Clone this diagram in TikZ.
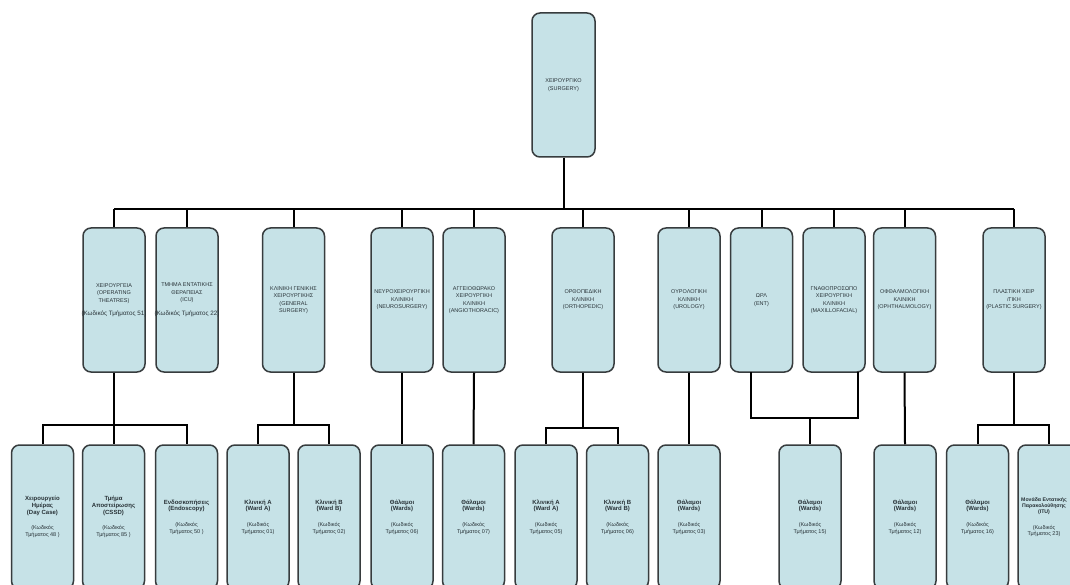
\documentclass[tikz,border=0pt]{standalone}
\usepackage{fontspec}
\setmainfont{Liberation Sans}
\definecolor{boxfill}{RGB}{198,226,231}
\definecolor{boxline}{RGB}{55,60,62}
\definecolor{txt}{RGB}{40,50,55}
\newcommand{\codeline}[1]{\makebox[0pt]{\fontsize{6.3}{7}\selectfont #1}}
\newcommand{\lowcode}[1]{{\fontsize{5.5}{6.5}\selectfont #1}}
\begin{document}
\begin{tikzpicture}[x=1pt,y=-1pt,
 box/.style={draw=boxline, fill=boxfill, line width=1.5pt, rounded corners=8pt,
   minimum width=62pt, minimum height=144pt, inner sep=0pt, align=center, text=txt},
 mid/.style={box, font=\fontsize{5.5}{7.5}\selectfont},
 low/.style={box, font=\fontsize{6}{6.7}\selectfont},
 lowtext/.style={inner sep=0pt, align=center, text=txt, font=\fontsize{5.2}{6.3}\selectfont},
 conn/.style={draw=black, line width=2pt},
 busline/.style={draw=black, line width=2.6pt}]
\fill[white] (0,0) rectangle (1070,585);
\clip (0,0) rectangle (1070,585);

% top
\node[mid, minimum width=63pt] (t) at (563.5,85) {ΧΕΙΡΟΥΡΓΙΚΟ\\(SURGERY)};

% middle row
\node[mid] (m1) at (114,300) {ΧΕΙΡΟΥΡΓΕΙΑ\\(OPERATING\\THEATRES)\\[6pt]\codeline{(Κωδικός Τμήματος 51)}};
\node[mid] (m2) at (187,300) {\makebox[0pt]{ΤΜΗΜΑ ΕΝΤΑΤΙΚΗΣ}\\ΘΕΡΑΠΕΙΑΣ\\(ICU)\\[6pt]\codeline{(Κωδικός Τμήματος 22)}};
\node[mid] (m3) at (293.5,300) {\makebox[0pt]{ΚΛΙΝΙΚΗ ΓΕΝΙΚΗΣ}\\ΧΕΙΡΟΥΡΓΙΚΗΣ\\(GENERAL\\SURGERY)};
\node[mid] (m4) at (402,300) {\makebox[0pt]{ΝΕΥΡΟΧΕΙΡΟΥΡΓΙΚΗ}\\ΚΛΙΝΙΚΗ\\(NEUROSURGERY)};
\node[mid] (m5) at (474,300) {ΑΓΓΕΙΟΘΩΡΑΚΟ\\ΧΕΙΡΟΥΡΓΙΚΗ\\ΚΛΙΝΙΚΗ\\\makebox[0pt]{(ANGIOTHORACIC)}};
\node[mid] (m6) at (583,300) {ΟΡΘΟΠΕΔΙΚΗ\\ΚΛΙΝΙΚΗ\\(ORTHOPEDIC)};
\node[mid] (m7) at (689,300) {ΟΥΡΟΛΟΓΙΚΗ\\ΚΛΙΝΙΚΗ\\(UROLOGY)};
\node[mid] (m8) at (761.5,300) {ΩΡΛ\\(ENT)};
\node[mid] (m9) at (834,300) {\makebox[0pt]{ΓΝΑΘΟΠΡΟΣΩΠΟ}\\ΧΕΙΡΟΥΡΓΙΚΗ\\ΚΛΙΝΙΚΗ\\\makebox[0pt]{(MAXILLOFACIAL)}};
\node[mid] (m10) at (904.5,300) {\makebox[0pt]{ΟΦΘΑΛΜΟΛΟΓΙΚΗ}\\ΚΛΙΝΙΚΗ\\\makebox[0pt]{(OPHTHALMOLOGY)}};
\node[mid] (m11) at (1014,300) {ΠΛΑΣΤΙΚΗ ΧΕΙΡ\\/ΓΙΚΗ\\\makebox[0pt]{(PLASTIC SURGERY)}};

% bottom row
\node[low] (b1) at (42.5,517) {\textbf{Χειρουργείο}\\\textbf{Ημέρας}\\\textbf{(Day Case)}\\[9pt]\lowcode{(Κωδικός}\\\lowcode{Τμήματος 48 )}};
\node[low] (b2) at (113.5,517) {\textbf{Τμήμα}\\\textbf{\makebox[0pt]{Αποστείρωσης}}\\\textbf{(CSSD)}\\[9pt]\lowcode{(Κωδικός}\\\lowcode{Τμήματος 85 )}};
\node[low] (b3) at (186.5,517) {\textbf{\makebox[0pt]{Ενδοσκοπήσεις}}\\\textbf{(Endoscopy)}\\[9pt]\lowcode{(Κωδικός}\\\lowcode{Τμήματος 50 )}};
\node[low] (b4) at (258,517) {\textbf{Κλινική Α}\\\textbf{(Ward A)}\\[9pt]\lowcode{(Κωδικός}\\\lowcode{Τμήματος 01)}};
\node[low] (b5) at (329,517) {\textbf{Κλινική Β}\\\textbf{(Ward B)}\\[9pt]\lowcode{(Κωδικός}\\\lowcode{Τμήματος 02)}};
\node[low] (b6) at (402,517) {\textbf{Θάλαμοι}\\\textbf{(Wards)}\\[9pt]\lowcode{(Κωδικός}\\\lowcode{Τμήματος 06)}};
\node[low] (b7) at (473.5,517) {\textbf{Θάλαμοι}\\\textbf{(Wards)}\\[9pt]\lowcode{(Κωδικός}\\\lowcode{Τμήματος 07)}};
\node[low] (b8) at (546,517) {\textbf{Κλινική Α}\\\textbf{(Ward A)}\\[9pt]\lowcode{(Κωδικός}\\\lowcode{Τμήματος 05)}};
\node[low] (b9) at (617.5,517) {\textbf{Κλινική Β}\\\textbf{(Ward B)}\\[9pt]\lowcode{(Κωδικός}\\\lowcode{Τμήματος 06)}};
\node[low] (b10) at (689,517) {\textbf{Θάλαμοι}\\\textbf{(Wards)}\\[9pt]\lowcode{(Κωδικός}\\\lowcode{Τμήματος 03)}};
\node[low] (b11) at (810,517) {\textbf{Θάλαμοι}\\\textbf{(Wards)}\\[9pt]\lowcode{(Κωδικός}\\\lowcode{Τμήματος 15)}};
\node[low] (b12) at (905,517) {\textbf{Θάλαμοι}\\\textbf{(Wards)}\\[9pt]\lowcode{(Κωδικός}\\\lowcode{Τμήματος 12)}};
\node[low] (b13) at (977.5,517) {\textbf{Θάλαμοι}\\\textbf{(Wards)}\\[9pt]\lowcode{(Κωδικός}\\\lowcode{Τμήματος 16)}};
\node[low] (b14) at (1049,517) {};
\node[lowtext] (b14t) at (1044,517) {\textbf{Μονάδα Εντατικής}\\\textbf{Παρακολούθησης}\\\textbf{(ITU)}\\[9pt]\lowcode{(Κωδικός}\\\lowcode{Τμήματος 23)}};

% helper coordinates
\coordinate (hub) at (563.5,209);
\coordinate (y425) at (0,425);
\coordinate (y428) at (0,428);
\coordinate (y418) at (0,418);
\coordinate (m8x) at (751,372);
\coordinate (m9x) at (858,372);

% top to middle
\draw[conn] (t.south) -- (hub);
\draw[busline] (m1.north |- hub) -- (m11.north |- hub);
\foreach \n in {m1,m2,m3,m4,m5,m6,m7,m8,m9,m10,m11}
  \draw[conn] (\n.north |- hub) -- (\n.north);

% middle to bottom
\draw[conn] (m1.south) -- (m1.south |- y425);
\draw[conn] (b1.north) |- (m1.south |- y425) -| (b3.north);
\draw[conn] (m1.south |- y425) -| (b2.north);

\draw[conn] (m3.south) -- (m3.south |- y425);
\draw[conn] (b4.north) |- (m3.south |- y425) -| (b5.north);

\draw[conn] (m4.south) -- (b6.north);
\draw[conn] (m5.south) -- (b7.north);

\draw[conn] (m6.south) -- (m6.south |- y428);
\draw[conn] (b8.north) |- (m6.south |- y428) -| (b9.north);

\draw[conn] (m7.south) -- (b10.north);

\draw[conn] (m8x) |- (b11.north |- y418) -| (m9x);
\draw[conn] (b11.north |- y418) -- (b11.north);

\draw[conn] (m10.south) -- (b12.north);

\draw[conn] (m11.south) -- (m11.south |- y425);
\draw[conn] (b13.north) |- (m11.south |- y425) -| (b14.north);
\end{tikzpicture}
\end{document}
